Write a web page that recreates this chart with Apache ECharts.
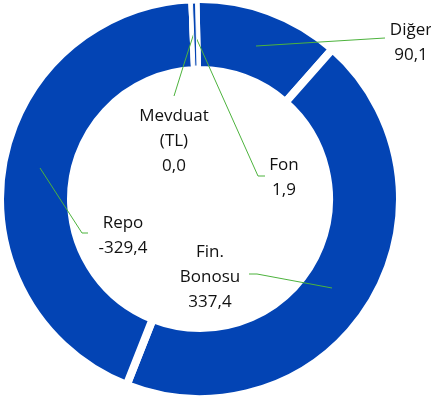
<!DOCTYPE html>
<html><head><meta charset="utf-8">
<script src="https://cdn.jsdelivr.net/npm/echarts@6/dist/echarts.min.js"></script>
<style>html,body{margin:0;padding:0;background:#fff}#c{width:431px;height:400px}</style>
</head><body><div id="c"></div>
<script>
const categories = ['Diğer', 'Fin.\nBonosu', 'Repo', 'Mevduat\n(TL)', 'Fon'];
const values = [90.1, 337.4, -329.4, 0.0, 1.9];
const highlightCategory = 'Fon';

// label layout (annotation positions only)
const labelPos = [[411, 43], [210, 277], [123, 236], [174, 141], [284, 178]];
const leaderPts = [
  [[256, 46], [320, 42], [385, 38]],
  [[332, 288], [257, 274], [249, 274]],
  [[40, 168], [82, 233], [88, 233]],
  [[194, 33], [184, 64], [174, 96]],
  [[194, 33], [258, 176], [265, 176]]
];

const BLUE = '#0344B4';
const fmt = v => v.toFixed(1).replace('.', ',');
const pieData = categories.map((c, i) => ({ name: c, value: Math.abs(values[i]) }));

const chart = echarts.init(document.getElementById('c'), null, { renderer: 'canvas' });
chart.setOption({
  animation: false,
  backgroundColor: '#fff',
  series: [{
    type: 'pie',
    z: 2,
    center: [200, 199],
    radius: [129, 200],
    startAngle: 91.3,
    clockwise: true,
    silent: true,
    itemStyle: { color: BLUE, borderColor: '#fff', borderWidth: 8 },
    label: { show: false },
    labelLine: { show: false },
    data: pieData
  }, {
    type: 'pie',
    z: 5,
    center: [200, 199],
    radius: [133, 196],
    startAngle: 91.3,
    clockwise: true,
    silent: true,
    avoidLabelOverlap: false,
    label: {
      show: true,
      position: 'outside',
      color: '#111',
      fontFamily: 'Open Sans',
      fontSize: 17,
      lineHeight: 25,
      align: 'center',
      formatter: p => categories[p.dataIndex] + '\n' + fmt(values[p.dataIndex])
    },
    labelLine: { show: true, lineStyle: { color: '#4DB33D', width: 1 } },
    labelLayout: p => ({
      x: labelPos[p.dataIndex][0],
      y: labelPos[p.dataIndex][1],
      align: 'center',
      verticalAlign: 'middle',
      labelLinePoints: leaderPts[p.dataIndex]
    }),
    data: pieData.map(d => ({
      name: d.name, value: d.value,
      itemStyle: d.name === highlightCategory
        ? { color: BLUE, borderColor: '#fff', borderWidth: 1 }
        : { color: 'rgba(0,0,0,0)', borderWidth: 0 }
    }))
  }]
});
</script></body></html>
